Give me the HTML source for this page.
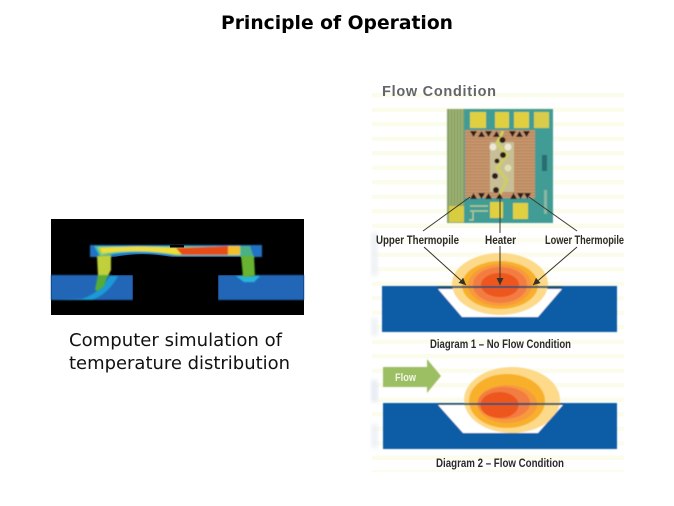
<!DOCTYPE html>
<html>
<head>
<meta charset="utf-8">
<style>
html,body{margin:0;padding:0;background:#fff}
svg{display:block}
text{font-family:"Liberation Sans",sans-serif}
</style>
</head>
<body>
<svg width="674" height="506" viewBox="0 0 674 506" xmlns="http://www.w3.org/2000/svg">
<defs>
<filter id="b1"><feGaussianBlur stdDeviation="0.8"/></filter>
<filter id="b2"><feGaussianBlur stdDeviation="2.2"/></filter>
<filter id="b3"><feGaussianBlur stdDeviation="0.5"/></filter>
<filter id="b4"><feGaussianBlur stdDeviation="0.25"/></filter>
<marker id="ah" markerWidth="9" markerHeight="9" refX="7" refY="3.500" orient="auto"><path d="M0,0L7,3.500L0,7Z" fill="#333328"/></marker>
<pattern id="st" width="252" height="14.500" patternUnits="userSpaceOnUse" x="372" y="93">
<rect width="252" height="4.500" y="0" fill="#fcfced"/>
</pattern>
<pattern id="hatch" width="3" height="3" patternUnits="userSpaceOnUse">
<rect width="3" height="1.500" fill="#b98a62"/>
</pattern>
</defs>
<rect width="674" height="506" fill="#fff"/>
<text x="337" y="29" font-size="19" font-weight="bold" text-anchor="middle" fill="#000" style="font-family:'DejaVu Sans',sans-serif" textLength="232" lengthAdjust="spacingAndGlyphs">Principle of Operation</text>

<!-- Left simulation -->
<rect x="51" y="219" width="253" height="96" fill="#000"/>
<g filter="url(#b1)">
<rect x="51" y="275" width="82" height="25" fill="#2366b8"/>
<rect x="218" y="275" width="86" height="25" fill="#2366b8"/>
<path d="M51,300 L82,299 Q98,294 110,276 L118,276 Q108,294 92,300Z" fill="#1f9ad6"/>
<path d="M236,276 L260,276 L254,282 L244,282Z" fill="#28b4d8"/>
<rect x="90" y="245" width="172" height="12" fill="#2472c6"/>
<path d="M94,246 H242 V256 H178 Q135,248 100,257Z" fill="#2fbdb8"/>
<path d="M97,247 H240 V255 H174 Q135,247 101,255Z" fill="#a6d044"/>
<path d="M100,248 Q140,245 172,248 L236,247 V254 H176 Q140,249 102,253Z" fill="#f1dc3a"/>
<path d="M176,248 L228,246 V255 H182Z" fill="#e74b16"/>
<path d="M228,246 L240,246 V255 H228Z" fill="#f4c02c"/>
<path d="M240,246 L250,246 L254,258 L241,258Z" fill="#4ab08a"/>
</g>
<rect x="170" y="245" width="14" height="2.500" fill="#000"/>
<path d="M112,257.500 Q140,251 172,257 H241 V275 H218 V315 H133 V275 H112Z" fill="#000"/>
<g filter="url(#b1)">
<path d="M97,256 L111,255 L111,270 L108,276 L98,276Z" fill="#bfd03a"/>
<path d="M98,275 L108,275 L104,286 L98,291 L95,290Z" fill="#55ad38"/>
<path d="M241,256 L254,256 L255,276 L243,277Z" fill="#67b333"/>
</g>

<text x="69" y="346" font-size="17.500" fill="#111" style="font-family:'DejaVu Sans',sans-serif" textLength="213" lengthAdjust="spacingAndGlyphs">Computer simulation of</text>
<text x="69" y="369" font-size="17.500" fill="#111" style="font-family:'DejaVu Sans',sans-serif" textLength="221" lengthAdjust="spacingAndGlyphs">temperature distribution</text>

<!-- Right image background -->
<rect x="372" y="93" width="252" height="379" fill="url(#st)"/>
<text x="382" y="96" font-size="14.500" font-weight="bold" fill="#62666a" textLength="114" lengthAdjust="spacing">Flow Condition</text>
<rect x="371" y="232" width="7" height="44" fill="#eef2f6" filter="url(#b2)"/>
<rect x="371" y="318" width="7" height="18" fill="#eef2f6" filter="url(#b2)"/>
<rect x="371" y="380" width="7" height="22" fill="#e6ecf4" filter="url(#b2)"/>
<rect x="371" y="424" width="7" height="24" fill="#eef2f6" filter="url(#b2)"/>

<!-- Chip -->
<g filter="url(#b3)">
<rect x="447" y="109" width="106" height="114" fill="#3f9c94"/>
<rect x="447" y="109" width="17" height="114" fill="#86a66c"/>
<path d="M450,109V223M453,109V223M456,109V223M459,109V223M462,109V223" stroke="#aeb070" stroke-width="1"/>
<rect x="470" y="112" width="16" height="16" fill="#e0d040"/>
<rect x="495" y="112" width="14" height="16" fill="#e0d040"/>
<rect x="514" y="112" width="15" height="16" fill="#e0d040"/>
<rect x="534" y="112" width="15" height="16" fill="#d8cc48"/>
<rect x="449" y="206" width="15" height="16" fill="#d8cc40"/>
<rect x="490" y="202" width="13" height="16" fill="#e0d040"/>
<rect x="513" y="203" width="15" height="16" fill="#e0d040"/>
<rect x="465" y="130" width="70" height="68" fill="#c9966e"/>
<rect x="465" y="130" width="70" height="68" fill="url(#hatch)"/>
<rect x="490" y="142" width="24" height="50" fill="#c9bf96"/>
<path d="M503,131L497,143L507,155L497,168L507,180L499,196" stroke="#cdd060" stroke-width="3" fill="none"/>
<g fill="#2e1f1c">
<path d="M470,131h7l-3.500,6z M478,137l3.500,-6l3.500,6z M485,131h7l-3.500,6z M493,137l3.500,-6l3.500,6z M509,131h7l-3.500,6z M516,137l3.500,-6l3.500,6z M523,131h7l-3.500,6z"/>
<path d="M470,199l3.500,-6l3.500,6z M478,193h7l-3.500,6z M485,199l3.500,-6l3.500,6z M496,199l3.500,-6l3.500,6z M510,199l3.500,-6l3.500,6z M517,193h7l-3.500,6z M524,193h7l-3.500,6z"/>
<circle cx="502.500" cy="140" r="3"/><circle cx="503" cy="155" r="3"/><circle cx="497" cy="161" r="2.500"/><circle cx="495" cy="176" r="3"/><circle cx="496" cy="190" r="3"/>
</g>
<circle cx="493" cy="147" r="3.500" fill="#ece8d8"/><circle cx="508" cy="147" r="3.500" fill="#ece8d8"/>
<circle cx="508" cy="168" r="3.500" fill="#e0e0b0"/>
<rect x="542" y="155" width="5" height="16" fill="#2c6c70"/>
<rect x="544" y="190" width="3" height="24" fill="#88b8a0"/>
<path d="M470,206h18M470,211h18M473,212v8h-4" stroke="#b8c898" stroke-width="1.500" fill="none"/>
</g>

<!-- Callout lines above labels -->
<g stroke="#3a3a30" stroke-width="1" fill="none">
<path d="M470,197L423,231"/>
<path d="M500,198V233"/>
<path d="M529,197L577,231"/>
</g>

<g font-size="11.500" font-weight="bold" fill="#2c2c2c" filter="url(#b4)">
<text x="376" y="244" textLength="83" lengthAdjust="spacingAndGlyphs">Upper Thermopile</text>
<text x="485" y="244" textLength="31" lengthAdjust="spacingAndGlyphs">Heater</text>
<text x="545" y="244" textLength="79" lengthAdjust="spacingAndGlyphs">Lower Thermopile</text>
<text x="430" y="348" textLength="141" lengthAdjust="spacingAndGlyphs">Diagram 1 – No Flow Condition</text>
<text x="436" y="467" textLength="128" lengthAdjust="spacingAndGlyphs">Diagram 2 – Flow Condition</text>
</g>

<!-- Diagram 1 -->
<g filter="url(#b3)">
<rect x="382" y="286" width="235" height="46" fill="#0d5ba6"/>
<path d="M438,289H562L538,317H462Z" fill="#fff"/>
<clipPath id="c1"><path d="M372,240H624V286H562V289L538,317H462L438,289V286H372Z"/></clipPath>
<g clip-path="url(#c1)">
<ellipse cx="500" cy="284" rx="48" ry="31" fill="#fdd98a"/>
<ellipse cx="500" cy="285" rx="38" ry="24" fill="#f8b02a"/>
<ellipse cx="500" cy="285" rx="32" ry="21" fill="#f79a3e"/>
<ellipse cx="500" cy="285" rx="27" ry="18" fill="#f37b42"/>
<ellipse cx="500" cy="285" rx="19" ry="12" fill="#ed561c"/>
</g>
<rect x="438" y="286" width="124" height="2" fill="#1d4f66"/>
</g>
<g stroke="#333328" stroke-width="1" fill="none">
<path d="M424,247L466,285" marker-end="url(#ah)"/>
<path d="M500,246V285" marker-end="url(#ah)"/>
<path d="M577,247L533,285" marker-end="url(#ah)"/>
</g>

<!-- Diagram 2 -->
<g filter="url(#b3)">
<rect x="383" y="403" width="234" height="46" fill="#0d5ba6"/>
<path d="M438,405H563L538,433H463Z" fill="#fff"/>
<clipPath id="c2"><path d="M372,355H624V403H563V405L538,433H463L438,405V403H372Z"/></clipPath>
<g clip-path="url(#c2)">
<ellipse cx="512" cy="400" rx="48" ry="33" fill="#fdd98a"/>
<ellipse cx="507" cy="401" rx="38" ry="27" fill="#f8b02a"/>
<ellipse cx="507" cy="404" rx="30" ry="19" fill="#f79a3e"/>
<ellipse cx="504" cy="403" rx="26" ry="16" fill="#f37b42"/>
<ellipse cx="499.500" cy="405" rx="19" ry="13" fill="#ed561c"/>
</g>
<rect x="438" y="403" width="125" height="2" fill="#1d4f66"/>
<path d="M383,367H427V359L441,376L427,393V387H383Z" fill="#9cbf63"/>
</g>
<text x="395" y="381" font-size="11" font-weight="bold" fill="#f2f5e8" textLength="21" lengthAdjust="spacingAndGlyphs">Flow</text>
</svg>
</body>
</html>
